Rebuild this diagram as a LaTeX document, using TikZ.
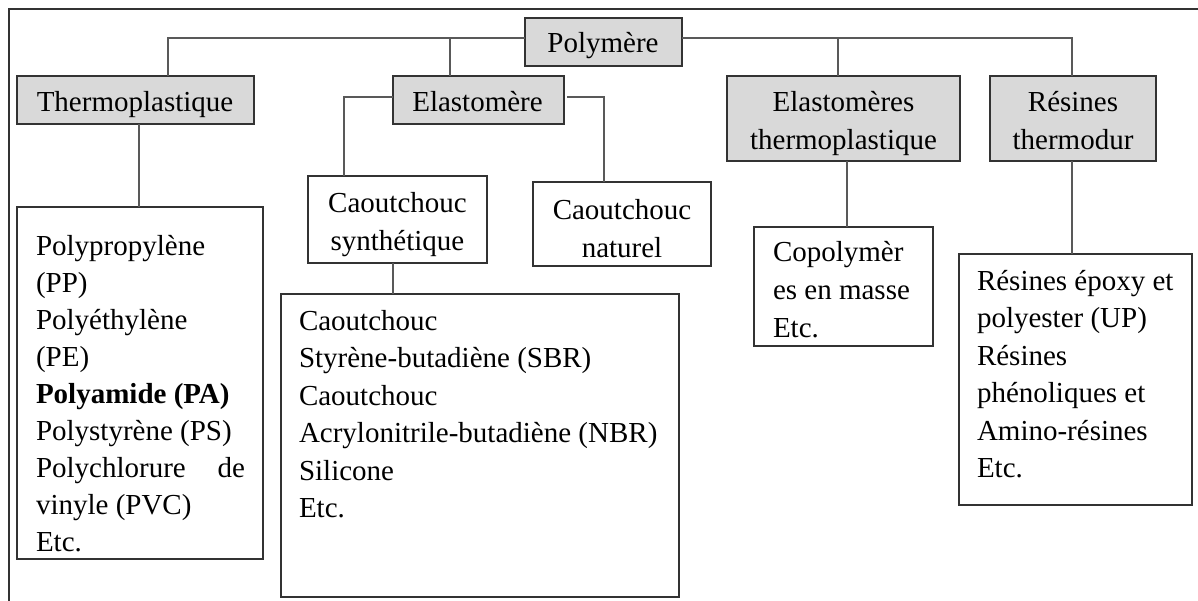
\documentclass[tikz,border=0pt]{standalone}
\usepackage{fontspec}
\setmainfont{Liberation Serif}
\begin{document}
\begin{tikzpicture}[x=1pt,y=-1pt,
  every node/.style={inner sep=0pt,outer sep=0pt},
  gbox/.style={draw=black!80,line width=1.3pt,fill=black!15,rectangle},
  wbox/.style={draw=black!80,line width=1.3pt,fill=white,rectangle},
  txt/.style={font=\fontsize{29}{37.5}\selectfont,text=black},
  conn/.style={draw=black!65,line width=1.3pt}]
\useasboundingbox (0,0) rectangle (1198,601);
% frame
\draw[black!80,line width=1.3pt] (9,601) -- (9,9) -- (1198,9);
% boxes
\node[gbox,minimum width=157pt,minimum height=48pt] (poly) at (603.5,42) {};
\node[gbox,minimum width=237pt,minimum height=48pt] (thermo) at (135.5,100) {};
\node[gbox,minimum width=171pt,minimum height=48pt] (elast) at (478.5,100) {};
\node[gbox,minimum width=233pt,minimum height=85pt] (et) at (843.5,118.5) {};
\node[gbox,minimum width=166pt,minimum height=85pt] (resin) at (1073,118.5) {};
\node[wbox,minimum width=179pt,minimum height=87pt] (synth) at (397.5,219.5) {};
\node[wbox,minimum width=178pt,minimum height=84pt] (nat) at (622,224) {};
\node[wbox,minimum width=246pt,minimum height=352pt] (lbox) at (140,383) {};
\node[wbox,minimum width=398pt,minimum height=303pt] (big) at (480,445.5) {};
\node[wbox,minimum width=179pt,minimum height=119pt] (copo) at (843.5,286.5) {};
\node[wbox,minimum width=233pt,minimum height=251pt] (rbox) at (1075.5,379.5) {};
% texts
\node[txt,anchor=base] (polyT) at (603,53) {Polymère};
\node[txt,anchor=base] (thermoT) at (135,112) {Thermoplastique};
\node[txt,anchor=base] (elastT) at (477.5,112) {Elastomère};
\node[txt,anchor=north,align=center] (etT) at (843.5,85.75) {\strut Elastomères\\thermoplastique};
\node[txt,anchor=north,align=center] (resinT) at (1073,85.75) {\strut Résines\\thermodur};
\node[txt,anchor=north,align=center] (synthT) at (397.5,186.75) {\strut Caoutchouc\\synthétique};
\node[txt,anchor=north,align=center] (natT) at (622,193.75) {\strut Caoutchouc\\naturel};
\node[txt,font=\fontsize{29}{37}\selectfont,anchor=north west,align=left] (lboxT) at (36,229.1) {\strut Polypropylène\\(PP)\\Polyéthylène\\(PE)\\\textbf{Polyamide (PA)}\\Polystyrène (PS)\\\makebox[209pt][l]{Polychlorure\hfill de}\\vinyle (PVC)\\Etc.};
\node[txt,anchor=north west,align=left] (bigT) at (299,303.75) {\strut Caoutchouc\\Styrène-butadiène (SBR)\\Caoutchouc\\Acrylonitrile-butadiène (NBR)\\Silicone\\Etc.};
\node[txt,anchor=north west,align=left] (copoT) at (773,235.75) {\strut Copolymèr\\es en masse\\Etc.};
\node[txt,anchor=north west,align=left] (rboxT) at (977,263.75) {\strut Résines époxy et\\polyester (UP)\\Résines\\phénoliques et\\Amino-résines\\Etc.};
% connectors
\draw[conn] ([yshift=4pt]poly.west) -| ([xshift=32.5pt]thermo.north);
\draw[conn] ([xshift=-28.5pt]elast.north) |- ([yshift=4pt]poly.west);
\draw[conn] ([yshift=4pt]poly.east) -| ([xshift=-1pt]resin.north);
\draw[conn] ([xshift=-5.5pt]et.north) |- ([yshift=4pt]poly.east);
\draw[conn] ([yshift=3pt]elast.west) -| ([xshift=-53.5pt]synth.north);
\draw[conn] ([xshift=3pt,yshift=3pt]elast.east) -| ([xshift=-18pt]nat.north);
\draw[conn] ([xshift=-4.5pt]synth.south) coordinate (s1) -- (s1 |- big.north);
\draw[conn] ([xshift=3.5pt]thermo.south) coordinate (t1) -- (t1 |- lbox.north);
\draw[conn] ([xshift=3.5pt]et.south) coordinate (e1) -- (e1 |- copo.north);
\draw[conn] ([xshift=-1pt]resin.south) coordinate (r1) -- (r1 |- rbox.north);
\end{tikzpicture}
\end{document}
